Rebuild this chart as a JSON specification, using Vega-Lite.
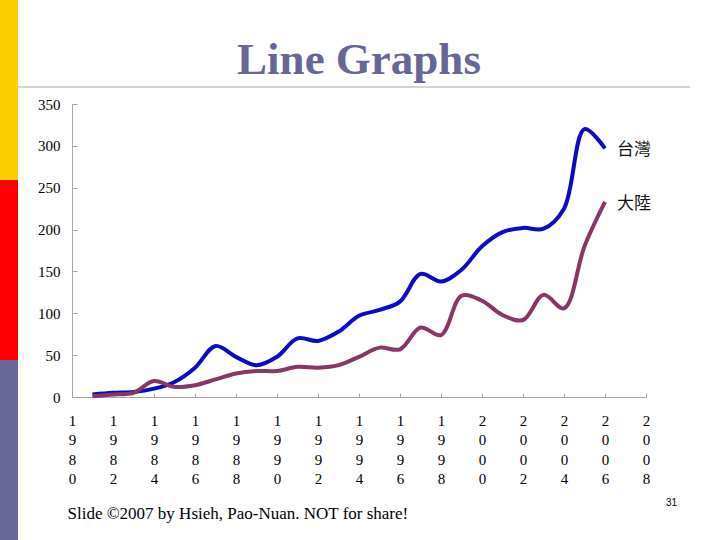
{
  "$schema": "https://vega.github.io/schema/vega-lite/v6.json",
  "padding": 0,
  "background": "white",
  "config": {
    "view": {"stroke": null},
    "concat": {"spacing": 0}
  },
  "resolve": {"scale": {"color": "independent", "x": "independent", "y": "independent"}},
  "hconcat": [
    {
      "width": 18,
      "height": 540,
      "data": {"values": [{"band": "a"}, {"band": "b"}, {"band": "c"}]},
      "mark": {"type": "rect"},
      "encoding": {
        "y": {"field": "band", "type": "nominal", "axis": null, "scale": {"paddingInner": 0, "paddingOuter": 0}},
        "color": {"field": "band", "type": "nominal", "legend": null,
          "scale": {"domain": ["a", "b", "c"], "range": ["#FFCC00", "#FF0000", "#666699"]}}
      }
    },
    {
      "resolve": {"scale": {"color": "independent", "x": "independent", "y": "independent"}},
      "vconcat": [
        {
          "width": 574,
          "height": 87,
          "data": {"values": [{"t": "Line Graphs"}]},
          "layer": [
            {
              "mark": {"type": "rule", "color": "#C4C4C4", "strokeWidth": 1.5},
              "encoding": {
                "x": {"datum": -0.094, "type": "quantitative", "scale": {"domain": [0, 1]}, "axis": null},
                "x2": {"datum": 1.077},
                "y": {"datum": 0, "type": "quantitative", "scale": {"domain": [0, 1]}, "axis": null}
              }
            },
            {
              "mark": {"type": "text", "font": "Liberation Serif", "fontWeight": "bold", "fontSize": 45, "color": "#666699", "baseline": "alphabetic", "align": "center"},
              "encoding": {
                "text": {"field": "t"},
                "x": {"datum": 0.5, "type": "quantitative"},
                "y": {"datum": 0.149, "type": "quantitative"}
              }
            }
          ]
        },
        {
          "width": 574,
          "height": 293,
          "layer": [
            {
              "data": {"values": [
                {"year": 1981, "value": 3, "series": "台灣"},
                {"year": 1982, "value": 5, "series": "台灣"},
                {"year": 1983, "value": 6, "series": "台灣"},
                {"year": 1984, "value": 10, "series": "台灣"},
                {"year": 1985, "value": 18, "series": "台灣"},
                {"year": 1986, "value": 35, "series": "台灣"},
                {"year": 1987, "value": 61, "series": "台灣"},
                {"year": 1988, "value": 48, "series": "台灣"},
                {"year": 1989, "value": 38, "series": "台灣"},
                {"year": 1990, "value": 48, "series": "台灣"},
                {"year": 1991, "value": 70, "series": "台灣"},
                {"year": 1992, "value": 67, "series": "台灣"},
                {"year": 1993, "value": 78, "series": "台灣"},
                {"year": 1994, "value": 97, "series": "台灣"},
                {"year": 1995, "value": 104, "series": "台灣"},
                {"year": 1996, "value": 114, "series": "台灣"},
                {"year": 1997, "value": 147, "series": "台灣"},
                {"year": 1998, "value": 138, "series": "台灣"},
                {"year": 1999, "value": 152, "series": "台灣"},
                {"year": 2000, "value": 180, "series": "台灣"},
                {"year": 2001, "value": 197, "series": "台灣"},
                {"year": 2002, "value": 202, "series": "台灣"},
                {"year": 2003, "value": 201, "series": "台灣"},
                {"year": 2004, "value": 225, "series": "台灣"},
                {"year": 2005, "value": 320, "series": "台灣"},
                {"year": 2006, "value": 297, "series": "台灣"},
                {"year": 1981, "value": 1, "series": "大陸"},
                {"year": 1982, "value": 3, "series": "大陸"},
                {"year": 1983, "value": 5, "series": "大陸"},
                {"year": 1984, "value": 19, "series": "大陸"},
                {"year": 1985, "value": 12, "series": "大陸"},
                {"year": 1986, "value": 14, "series": "大陸"},
                {"year": 1987, "value": 21, "series": "大陸"},
                {"year": 1988, "value": 28, "series": "大陸"},
                {"year": 1989, "value": 31, "series": "大陸"},
                {"year": 1990, "value": 31, "series": "大陸"},
                {"year": 1991, "value": 36, "series": "大陸"},
                {"year": 1992, "value": 35, "series": "大陸"},
                {"year": 1993, "value": 38, "series": "大陸"},
                {"year": 1994, "value": 48, "series": "大陸"},
                {"year": 1995, "value": 59, "series": "大陸"},
                {"year": 1996, "value": 57, "series": "大陸"},
                {"year": 1997, "value": 83, "series": "大陸"},
                {"year": 1998, "value": 74, "series": "大陸"},
                {"year": 1999, "value": 121, "series": "大陸"},
                {"year": 2000, "value": 115, "series": "大陸"},
                {"year": 2001, "value": 98, "series": "大陸"},
                {"year": 2002, "value": 92, "series": "大陸"},
                {"year": 2003, "value": 122, "series": "大陸"},
                {"year": 2004, "value": 106, "series": "大陸"},
                {"year": 2005, "value": 180, "series": "大陸"},
                {"year": 2006, "value": 233, "series": "大陸"}
              ]},
              "layer": [
                {
                  "mark": {"type": "line", "strokeWidth": 4, "interpolate": "catmull-rom"},
                  "encoding": {
                    "x": {
                      "field": "year", "type": "quantitative",
                      "scale": {"domain": [1980, 2008], "nice": false, "zero": false},
                      "axis": {
                        "values": [1980, 1982, 1984, 1986, 1988, 1990, 1992, 1994, 1996, 1998, 2000, 2002, 2004, 2006, 2008],
                        "labelExpr": "split(toString(datum.value), '')",
                        "labelFont": "Liberation Serif", "labelFontSize": 15, "labelColor": "#000000",
                        "labelLineHeight": 19.5, "labelPadding": 20, "labelAngle": 0, "labelBaseline": "top",
                        "labelFlush": false, "labelOverlap": false,
                        "ticks": true, "tickSize": -4, "tickColor": "#A6A6A6", "domainColor": "#A6A6A6", "grid": false,
                        "title": "Slide ©2007  by Hsieh, Pao-Nuan.  NOT for share!",
                        "titleFont": "Liberation Serif", "titleFontSize": 17, "titleFontWeight": "normal", "titleColor": "#000000",
                        "titleAnchor": "start", "titleAlign": "left", "titleBaseline": "alphabetic", "titleX": -5, "titleY": 121
                      }
                    },
                    "y": {
                      "field": "value", "type": "quantitative",
                      "scale": {"domain": [0, 350], "nice": false},
                      "axis": {
                        "values": [0, 50, 100, 150, 200, 250, 300, 350],
                        "labelFont": "Liberation Serif", "labelFontSize": 15, "labelColor": "#000000",
                        "labelPadding": 17, "ticks": true, "tickSize": -5, "tickColor": "#A6A6A6", "domainColor": "#A6A6A6",
                        "grid": false, "title": null
                      }
                    },
                    "color": {"field": "series", "type": "nominal", "legend": null,
                      "scale": {"domain": ["台灣", "大陸"], "range": ["#0A0AC8", "#8A3566"]}}
                  }
                },
                {
                  "transform": [{"filter": "datum.year == 2006"}],
                  "mark": {"type": "text", "align": "left", "baseline": "middle", "dx": 12, "dy": 2, "font": "Noto Sans CJK TC", "fontSize": 17, "color": "#111111"},
                  "encoding": {
                    "x": {"field": "year", "type": "quantitative"},
                    "y": {"field": "value", "type": "quantitative"},
                    "text": {"field": "series"}
                  }
                }
              ]
            },
            {
              "data": {"values": [{"page": "31"}]},
              "mark": {"type": "text", "align": "center", "baseline": "middle", "font": "Liberation Sans", "fontSize": 10, "color": "#000000"},
              "encoding": {
                "x": {"datum": 2009.25, "type": "quantitative"},
                "y": {"datum": -127, "type": "quantitative"},
                "text": {"field": "page"}
              }
            }
          ]
        }
      ],
      "spacing": 17,
      "bounds": "flush"
    }
  ],
  "spacing": 54,
  "bounds": "flush"
}
